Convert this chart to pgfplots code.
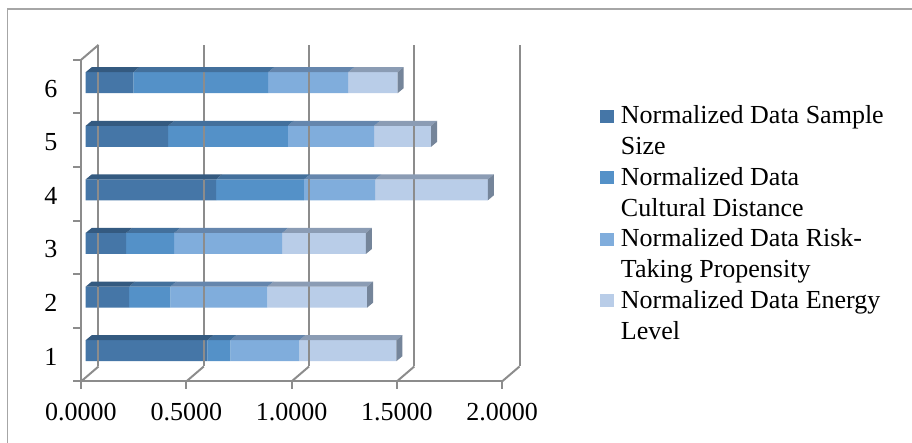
\documentclass[border=0pt]{standalone}
\usepackage{fontspec}
\setmainfont{Liberation Serif}
\usepackage{pgfplots}
\pgfplotsset{compat=1.18}
\usepackage{pgfplotstable}

\definecolor{c1}{HTML}{4576A7}
\definecolor{c2}{HTML}{5491C8}
\definecolor{c3}{HTML}{80ADDC}
\definecolor{c4}{HTML}{B9CDE8}
\definecolor{t1}{HTML}{345A80}
\definecolor{t2}{HTML}{43709C}
\definecolor{t3}{HTML}{6586AD}
\definecolor{t4}{HTML}{8B9CB4}
\definecolor{capc}{HTML}{75859A}
\definecolor{wall}{HTML}{8C8C8C}
\definecolor{framec}{HTML}{A6A6A6}

% depth of the bars (oblique offset) and half of the bar width
\def\bdx{6pt}\def\bdy{5pt}\def\bhw{10.5pt}

% top face of a stacked segment, drawn at the segment's end point
\pgfdeclareplotmark{topface}{%
  \pgfpathmoveto{\pgfpoint{-\seglen pt}{\bhw}}%
  \pgfpathlineto{\pgfpoint{0pt}{\bhw}}%
  \pgfpathlineto{\pgfpoint{\bdx}{\bhw+\bdy}}%
  \pgfpathlineto{\pgfpoint{\bdx-\seglen pt}{\bhw+\bdy}}%
  \pgfpathclose\pgfusepathqfill}
% top face plus the end cap of the whole bar
\pgfdeclareplotmark{topcap}{%
  \pgfpathmoveto{\pgfpoint{-\seglen pt}{\bhw}}%
  \pgfpathlineto{\pgfpoint{0pt}{\bhw}}%
  \pgfpathlineto{\pgfpoint{\bdx}{\bhw+\bdy}}%
  \pgfpathlineto{\pgfpoint{\bdx-\seglen pt}{\bhw+\bdy}}%
  \pgfpathclose\pgfusepathqfill
  \pgfsetfillcolor{capc}%
  \pgfpathmoveto{\pgfpoint{0pt}{-\bhw}}%
  \pgfpathlineto{\pgfpoint{0pt}{\bhw}}%
  \pgfpathlineto{\pgfpoint{\bdx}{\bhw+\bdy}}%
  \pgfpathlineto{\pgfpoint{\bdx}{\bdy-\bhw}}%
  \pgfpathclose\pgfusepathqfill}

% legend square, level with the first line of a two-line entry
\pgfplotsset{sq/.style={legend image code/.code={\fill[#1] (0pt,31.8pt) rectangle (14pt,44.8pt);}}}

\pgfplotstableread{
cat ss    cd    rt    el
1   0.578 0.109 0.328 0.461
2   0.206 0.196 0.461 0.474
3   0.192 0.228 0.513 0.398
4   0.619 0.417 0.339 0.535
5   0.392 0.568 0.410 0.271
6   0.226 0.641 0.380 0.235
}\barsdata

\begin{document}
\begin{tikzpicture}[font=\fontsize{26}{30.8}\selectfont]
\path[use as bounding box] (-85.7pt,-65.5pt) rectangle (826.3pt,377.5pt);
\fill[white] (-85.7pt,-65.5pt) rectangle (826.3pt,377.5pt);
\draw[framec, line width=1.2pt] (-78.2pt,-65.5pt) -- (-78.2pt,368.5pt) -- (826.3pt,368.5pt);
\begin{axis}[
  anchor=south west, at={(0pt,0pt)},
  x=210.5pt, y=53.6pt,
  xmin=0, xmax=2, ymin=0.5, ymax=6.5,
  xbar stacked, bar width=21pt,
  clip=false,
  axis line style={draw=none},
  tick style={draw=none},
  xtick={0,0.5,1,1.5,2},
  xticklabels={0.0000,0.5000,1.0000,1.5000,2.0000},
  ytick={1,2,3,4,5,6},
  yticklabels={1,2,3,4,5,6},
  xticklabel style={anchor=center, xshift=-4.7pt, yshift=-35pt},
  yticklabel style={anchor=center, xshift=-34.7pt, yshift=-6pt},
  legend style={draw=none, fill=none, at={(axis cs:2.443,5.675)}, anchor=north west,
    inner sep=0pt, outer sep=0pt, row sep=3.7pt, column sep=5pt,
    cells={align=left, inner sep=0pt, anchor=base west},
    font=\fontsize{26}{30.8}\selectfont},
]
% walls, floor, axis lines and ticks of the 3-D frame
\pgfplotsinvokeforeach{0,0.5,1,1.5,2}{%
  \draw[wall, line width=2pt] ([shift={(12.8pt,11pt)}]axis cs:#1,0.5) -- ([shift={(12.8pt,11pt)}]axis cs:#1,6.5);
  \draw[wall, line width=2pt] ([shift={(-4.7pt,-4pt)}]axis cs:#1,0.5) -- ([shift={(12.8pt,11pt)}]axis cs:#1,0.5);
  \draw[wall, line width=2pt] ([shift={(-4.7pt,-4pt)}]axis cs:#1,0.5) -- ++(0pt,-8pt);
}
\pgfplotsinvokeforeach{0.5,1.5,2.5,3.5,4.5,5.5,6.5}{%
  \draw[wall, line width=2pt] ([shift={(-4.7pt,-4pt)}]axis cs:0,#1) -- ++(-8pt,0pt);
}
\draw[wall, line width=2pt] ([shift={(-4.7pt,-4pt)}]axis cs:0,6.5) -- ([shift={(12.8pt,11pt)}]axis cs:0,6.5);
\draw[wall, line width=2pt] ([shift={(-4.7pt,-4pt)}]axis cs:0,6.5) -- ([shift={(-4.7pt,-4pt)}]axis cs:0,0.5) -- ([shift={(-4.7pt,-4pt)}]axis cs:2,0.5);

\addplot[fill=c1, draw=none, sq=c1, scatter, mark=topface,
  scatter/use mapped color={fill=t1, draw=none},
  visualization depends on={210.5*\thisrow{ss} \as \seglen}]
  table[x=ss, y=cat] {\barsdata};
\addlegendentry{\strut Normalized Data Sample\\\strut Size}
\addplot[fill=c2, draw=none, sq=c2, scatter, mark=topface,
  scatter/use mapped color={fill=t2, draw=none},
  visualization depends on={210.5*\thisrow{cd} \as \seglen}]
  table[x=cd, y=cat] {\barsdata};
\addlegendentry{\strut Normalized Data\\\strut Cultural Distance}
\addplot[fill=c3, draw=none, sq=c3, scatter, mark=topface,
  scatter/use mapped color={fill=t3, draw=none},
  visualization depends on={210.5*\thisrow{rt} \as \seglen}]
  table[x=rt, y=cat] {\barsdata};
\addlegendentry{\strut Normalized Data Risk-\\\strut Taking Propensity}
\addplot[fill=c4, draw=none, sq=c4, scatter, mark=topcap,
  scatter/use mapped color={fill=t4, draw=none},
  visualization depends on={210.5*\thisrow{el} \as \seglen}]
  table[x=el, y=cat] {\barsdata};
\addlegendentry{\strut Normalized Data Energy\\\strut Level}
\end{axis}
\end{tikzpicture}
\end{document}
